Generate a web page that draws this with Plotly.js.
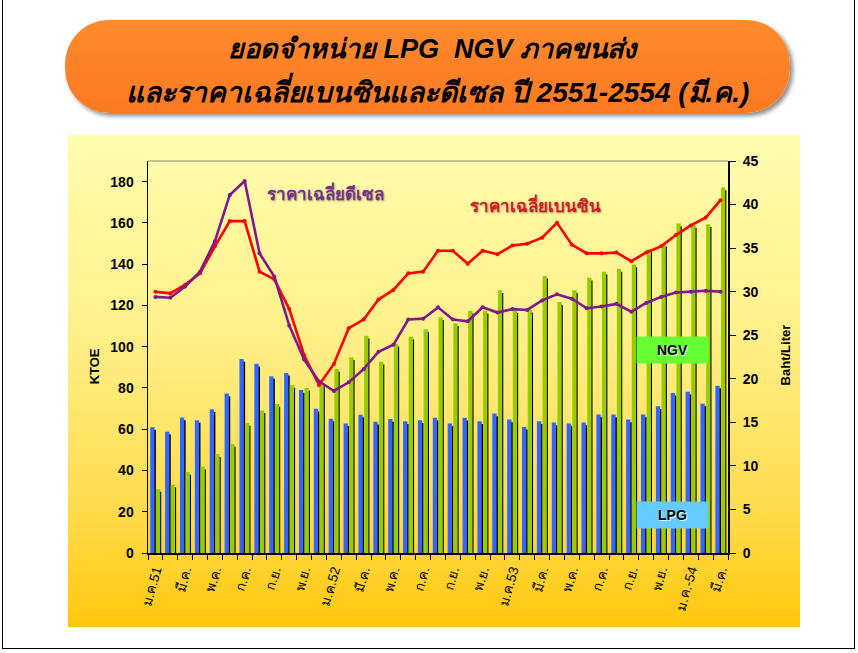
<!DOCTYPE html>
<html>
<head>
<meta charset="utf-8">
<script src="https://cdn.plot.ly/plotly-3.0.1.min.js"></script>
<style>
  html, body { margin: 0; padding: 0; background: #ffffff; }
  #wrap { position: relative; width: 858px; height: 653px; overflow: hidden; }
  #frame { position: absolute; left: 2px; top: -2px; width: 851px; height: 649px; border: 1px solid #000; }
  #panel { position: absolute; left: 68px; top: 135px; width: 732px; height: 492px;
           background: linear-gradient(to bottom, #fffdb0 0%, #fff08a 40%, #ffdc50 75%, #ffc80c 100%); }
  #banner { position: absolute; left: 65px; top: 20px; width: 725px; height: 93px; border-radius: 44px;
            background: linear-gradient(to bottom, #ff8a2e 0%, #fb7a22 100%);
            box-shadow: 3px 3px 4px rgba(0,0,0,0.45); }
  #chart { position: absolute; left: 0; top: 0; width: 858px; height: 653px; }
</style>
</head>
<body>
<div id="wrap">
  <div id="frame"></div>
  <div id="banner"></div>
  <div id="panel"></div>
  <div id="chart"></div>
</div>
<script>
// ---------------- DATA ----------------
const months = [
  'ม.ค.51','ก.พ.','มี.ค.','เม.ย.','พ.ค.','มิ.ย.','ก.ค.','ส.ค.','ก.ย.','ต.ค.','พ.ย.','ธ.ค.',
  'ม.ค.52','ก.พ.','มี.ค.','เม.ย.','พ.ค.','มิ.ย.','ก.ค.','ส.ค.','ก.ย.','ต.ค.','พ.ย.','ธ.ค.',
  'ม.ค.53','ก.พ.','มี.ค.','เม.ย.','พ.ค.','มิ.ย.','ก.ค.','ส.ค.','ก.ย.','ต.ค.','พ.ย.','ธ.ค.',
  'ม.ค.-54','ก.พ.','มี.ค.'
];
// KTOE
const lpg = [61.0,58.8,65.7,64.4,69.7,77.3,94.0,91.7,85.7,87.3,79.0,69.9,
             65.1,62.8,67.0,63.6,64.9,63.8,64.3,65.5,62.8,65.5,63.8,67.6,
             64.7,61.1,63.8,63.2,62.8,63.2,67.1,67.1,64.7,67.1,71.1,77.6,
             78.1,72.4,81.1];
const ngv = [31.0,33.1,39.2,41.8,47.9,52.8,63.0,69.1,72.2,81.4,80.0,82.4,
             89.2,94.9,105.3,92.7,101.4,104.8,108.5,114.3,111.3,117.4,117.4,127.3,
             117.6,117.8,134.3,121.6,127.3,133.4,136.3,137.6,139.8,147.2,149.8,159.7,
             159.0,159.3,177.1];
// Baht/Liter
const gasoline = [30.0,29.8,30.8,32.1,35.2,38.1,38.1,32.3,31.4,28.0,22.7,19.3,
                  21.7,25.8,26.8,29.1,30.2,32.1,32.3,34.7,34.7,33.2,34.7,34.3,
                  35.3,35.5,36.2,37.9,35.4,34.4,34.4,34.5,33.5,34.5,35.2,36.5,
                  37.6,38.5,40.5];
const diesel = [29.4,29.3,30.6,32.3,35.8,41.1,42.7,34.4,31.7,26.1,22.2,19.7,
                18.6,19.6,21.1,23.1,23.9,26.8,26.9,28.2,26.8,26.6,28.2,27.6,
                28.0,27.9,29.0,29.7,29.2,28.1,28.3,28.6,27.7,28.7,29.4,29.9,
                30.0,30.1,30.0];
const leftTicks = [0,20,40,60,80,100,120,140,160,180];
const rightTicks = [0,5,10,15,20,25,30,35,40,45];
const titleLine1 = 'ยอดจำหน่าย LPG  NGV ภาคขนส่ง';
const titleLine2 = 'และราคาเฉลี่ยเบนซินและดีเซล ปี 2551-2554 (มี.ค.)';
const labelDiesel = 'ราคาเฉลี่ยดีเซล';
const labelGasoline = 'ราคาเฉลี่ยเบนซิน';
const labelNGV = 'NGV';
const labelLPG = 'LPG';
const yTitleLeft = 'KTOE';
const yTitleRight = 'Baht/Liter';

// ---------------- BUILD ----------------
const idx = months.map((m, i) => i);
const labelIdx = idx.filter(i => i % 2 === 0);
const boundaries = [...idx.map(i => i - 0.5), months.length - 0.5];

const W = 858, H = 653;
const M = { l: 147.7, r: 129.5, t: 160.5, b: 99.5 };
const pw = W - M.l - M.r, ph = H - M.t - M.b;
const px = x => (x - M.l) / pw;
const py = y => (H - M.b - y) / ph;

const FONT = 'Liberation Sans, Arial, DejaVu Sans, sans-serif';

function bar(y, color, offset, width, base) {
  const t = { type: 'bar', x: idx, y: y, marker: { color: color, line: { width: 0 } },
              offset: offset, width: width, hoverinfo: 'skip', showlegend: false };
  if (base !== undefined) t.base = base;
  return t;
}

const traces = [
  bar(lpg, '#000000', -0.24, 0.27, -1.3),
  bar(lpg, '#3366ff', -0.35, 0.29),
  bar(ngv, '#000000', 0.14, 0.25, -1.3),
  bar(ngv, '#99cc00', 0.03, 0.29),
  { type: 'scatter', mode: 'lines+markers', x: idx, y: gasoline, yaxis: 'y2',
    line: { color: '#ff0000', width: 2.6 }, marker: { color: '#ff0000', size: 4 }, showlegend: false },
  { type: 'scatter', mode: 'lines+markers', x: idx, y: diesel, yaxis: 'y2',
    line: { color: '#7f1a8c', width: 2.6 }, marker: { color: '#7f1a8c', size: 4 }, showlegend: false }
];

const tickFont = { family: FONT, size: 14, color: '#000000', weight: 'bold' };

const layout = {
  width: W, height: H,
  margin: M,
  paper_bgcolor: 'rgba(0,0,0,0)',
  plot_bgcolor: 'rgba(0,0,0,0)',
  barmode: 'overlay',
  showlegend: false,
  xaxis: {
    range: [-0.5, months.length - 0.5],
    tickmode: 'array', tickvals: labelIdx, ticktext: labelIdx.map(i => months[i]),
    ticks: '', tickangle: -74, ticklabelstandoff: 2,
    tickfont: { family: FONT, size: 13.5, color: '#000000' },
    showgrid: false, zeroline: false,
    showline: true, linecolor: '#000000', linewidth: 2,
    minor: { tickmode: 'array', tickvals: boundaries, ticks: 'outside', ticklen: 5,
             tickcolor: '#000000', tickwidth: 1, showgrid: false },
    fixedrange: true
  },
  yaxis: {
    range: [0, 190], tickmode: 'array', tickvals: leftTicks,
    ticks: 'outside', ticklen: 5, tickcolor: '#000000', tickwidth: 1, ticklabelstandoff: 5,
    tickfont: tickFont, showgrid: false, zeroline: false,
    showline: true, linecolor: '#000000', linewidth: 1.5
  },
  yaxis2: {
    range: [0, 45], overlaying: 'y', side: 'right', tickmode: 'array', tickvals: rightTicks,
    ticks: 'outside', ticklen: 6, tickcolor: '#000000', tickwidth: 1, ticklabelstandoff: 4,
    tickfont: tickFont, showgrid: false, zeroline: false,
    showline: true, linecolor: '#000000', linewidth: 2
  },
  shapes: [
    { type: 'line', xref: 'paper', yref: 'paper', x0: 0, x1: 1, y0: 1, y1: 1,
      line: { color: '#8a8a70', width: 1 } }
  ],
  annotations: [
    { xref: 'paper', yref: 'paper', x: px(434), y: py(48), text: titleLine1, showarrow: false,
      xanchor: 'center', yanchor: 'middle',
      font: { family: FONT, size: 27, color: '#000000', weight: 'bold', style: 'italic' } },
    { xref: 'paper', yref: 'paper', x: px(438), y: py(89), text: titleLine2, showarrow: false,
      xanchor: 'center', yanchor: 'middle',
      font: { family: FONT, size: 28, color: '#000000', weight: 'bold', style: 'italic' } },
    { xref: 'paper', yref: 'paper', x: px(325), y: py(193), text: labelDiesel, showarrow: false,
      xanchor: 'center', yanchor: 'middle',
      font: { family: FONT, size: 17, color: '#73308f', weight: 'bold', shadow: '1px 1px 2px rgba(80,60,60,0.45)' } },
    { xref: 'paper', yref: 'paper', x: px(536), y: py(205), text: labelGasoline, showarrow: false,
      xanchor: 'center', yanchor: 'middle',
      font: { family: FONT, size: 17, color: '#d01c1c', weight: 'bold', shadow: '1px 1px 2px rgba(80,60,60,0.45)' } },
    { xref: 'paper', yref: 'paper', x: px(672.5), y: py(350), text: labelNGV, showarrow: false,
      xanchor: 'center', yanchor: 'middle', width: 67, height: 22, bgcolor: '#66ff33', borderpad: 2,
      font: { family: FONT, size: 14, color: '#000000', weight: 'bold', shadow: '1px 1px 1px #ffffff' } },
    { xref: 'paper', yref: 'paper', x: px(672.5), y: py(515), text: labelLPG, showarrow: false,
      xanchor: 'center', yanchor: 'middle', width: 67, height: 22, bgcolor: '#66ccff', borderpad: 2,
      font: { family: FONT, size: 14, color: '#000000', weight: 'bold', shadow: '1px 1px 1px #ffffff' } },
    { xref: 'paper', yref: 'paper', x: px(95), y: py(366), text: yTitleLeft, showarrow: false,
      textangle: -90, xanchor: 'center', yanchor: 'middle',
      font: { family: FONT, size: 13, color: '#000000', weight: 'bold' } },
    { xref: 'paper', yref: 'paper', x: px(786), y: py(355), text: yTitleRight, showarrow: false,
      textangle: -90, xanchor: 'center', yanchor: 'middle',
      font: { family: FONT, size: 13, color: '#000000', weight: 'bold' } }
  ]
};

Plotly.newPlot('chart', traces, layout, { displayModeBar: false, staticPlot: true });
</script>
</body>
</html>
